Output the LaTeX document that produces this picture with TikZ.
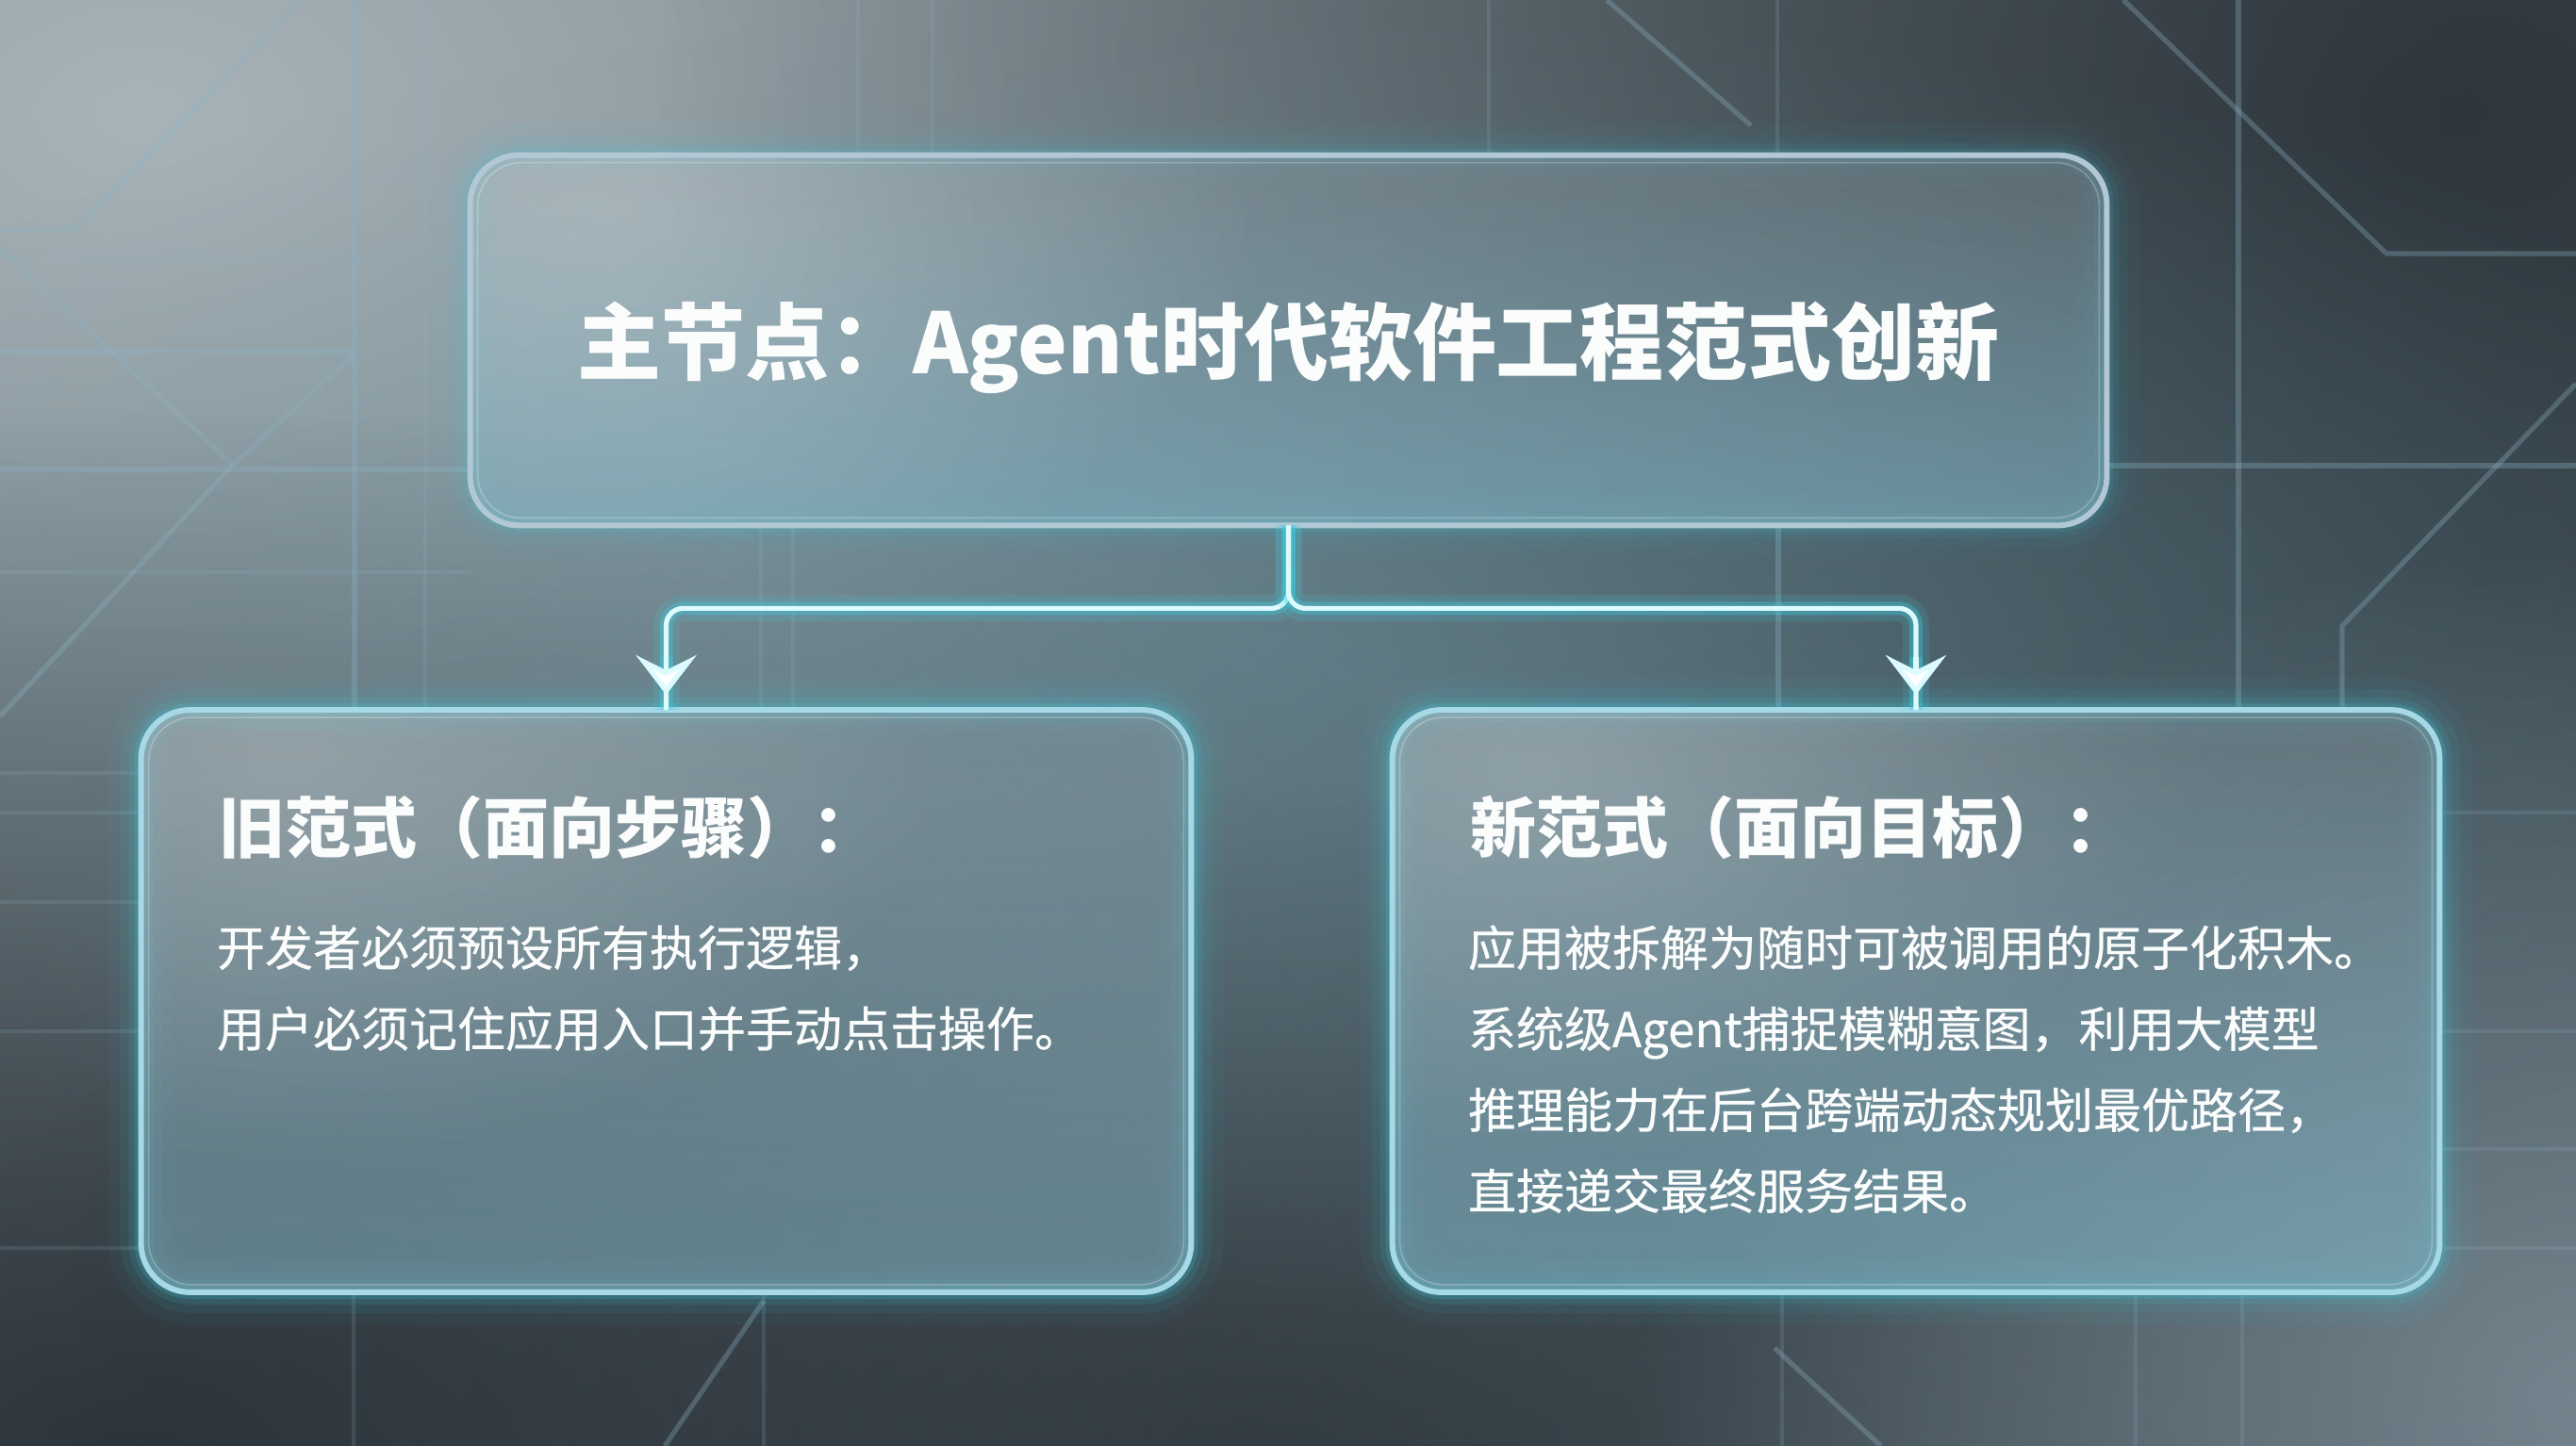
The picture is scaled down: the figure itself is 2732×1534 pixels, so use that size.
\documentclass[tikz,border=0pt]{standalone}
\usepackage{fontspec}
\setmainfont{Noto Sans CJK SC}
\newfontfamily\bodyfont[FakeBold=0.45]{Noto Sans CJK SC}
\usetikzlibrary{arrows.meta,calc,fadings}
\pgfdeclarelayer{back}
\pgfdeclarelayer{glass}
\pgfsetlayers{back,glass,main}
\tikzfading[name=fadeup, top color=transparent!100, bottom color=transparent!0]
\tikzfading[name=radfade, inner color=transparent!0, outer color=transparent!100]
\definecolor{bgbase}{HTML}{4E5C64}
\definecolor{bglight}{HTML}{A9B4B9}
\definecolor{bgdark}{HTML}{283036}
\definecolor{bgbr}{HTML}{7E909A}
\definecolor{bgteal}{HTML}{5F8E9C}
\definecolor{bgline}{HTML}{8DB2C4}
\definecolor{glowc}{HTML}{3ED0E2}
\definecolor{corec}{HTML}{DDFBFF}
\definecolor{edgec}{HTML}{A6D8E6}
\definecolor{tedge}{HTML}{B2C8D4}
\definecolor{glassc}{HTML}{8E9CA4}
\definecolor{tealc}{HTML}{72B8CC}
\definecolor{txt}{HTML}{FBFCFC}
\newcommand\panelglass[4]{%
  \foreach \w/\o in {34/0.04,22/0.07,13/0.11,7/0.18}{%
    \pgfmathsetmacro\oo{\o*#3}%
    \draw[glowc, line width=\w pt, opacity=\oo, rounded corners=26pt]
      (#1.north west) rectangle (#1.south east);}
  \fill[glassc, fill opacity=0.4, rounded corners=26pt]
    (#1.north west) rectangle (#1.south east);
  \fill[tealc, path fading=fadeup, fill opacity=#4, rounded corners=26pt]
    (#1.north west) rectangle (#1.south east);
  \begin{scope}
    \clip[rounded corners=26pt] (#1.north west) rectangle (#1.south east);
    \fill[white, path fading=radfade, fill opacity=0.22]
      ($(#1.north west)+(150,-60)$) ellipse (700 and 420);
  \end{scope}
  \draw[#2, line width=3pt, rounded corners=26pt]
    (#1.north west) rectangle (#1.south east);
  \draw[white, opacity=0.25, line width=0.8pt, rounded corners=23pt]
    ($(#1.north west)+(8,-8)$) rectangle ($(#1.south east)+(-8,8)$);
}
\tikzset{
  titlebox/.style={minimum width=867.5pt, minimum height=196pt, inner sep=0pt,
    text height=45pt, text depth=9pt,
    text=txt, font=\bfseries\fontsize{44.5}{50}\selectfont},
  panel/.style={minimum height=308.5pt, inner sep=0pt},
  head/.style={anchor=west, inner sep=0pt, text=txt,
    font=\bfseries\fontsize{35}{40}\selectfont},
  body/.style={anchor=north west, inner sep=0pt, text=txt, align=left,
    font=\bodyfont\fontsize{25.5}{43}\selectfont},
  conn/.style={draw=corec, line width=2.6pt, rounded corners=9pt,
    preaction={draw=glowc, line width=14pt, opacity=0.15},
    preaction={draw=glowc, line width=7pt, opacity=0.35}},
  tipst/.style={draw=corec, line width=2.6pt,
    -{Stealth[length=21pt, width=32pt, inset=8pt, fill=white]},
    preaction={draw=glowc, line width=7pt, opacity=0.3,
      -{Stealth[length=21pt, width=32pt, inset=8pt]}}},
  bgl/.style={draw=bgline, line width=2.6pt, opacity=0.33, line join=round},
  bgf/.style={draw=bgline, line width=2.2pt, opacity=0.18}
}
\begin{document}
\begin{tikzpicture}[x=0.5pt,y=0.5pt]
\useasboundingbox (0,0) rectangle (2732,-1534);
% ---------- background ----------
\begin{pgfonlayer}{back}
\fill[bgbase] (0,0) rectangle (2732,-1534);
\fill[bglight, path fading=radfade] (150,-120) ellipse (2600 and 1700);
\fill[bgdark, path fading=radfade, opacity=0.85] (2600,-120) ellipse (1900 and 1500);
\fill[bgdark, path fading=radfade, opacity=0.9] (150,-1534) ellipse (1900 and 1100);
\fill[bgdark, path fading=radfade, opacity=0.6] (1366,-1534) ellipse (1500 and 700);
\fill[bgbr, path fading=radfade, opacity=0.8] (2732,-1480) ellipse (1000 and 900);
\fill[bgteal, path fading=radfade, opacity=0.45] (1366,-700) ellipse (1800 and 700);
% circuit lines
\draw[bgl] (319,0) -- (80,-243) -- (0,-243);
\draw[bgl] (0,-263) -- (247,-493) -- (376,-375);
\draw[bgl] (247,-493) -- (0,-760);
\draw[bgl] (376,0) -- (376,-753);
\draw[bgf] (451,0) -- (451,-753);
\draw[bgf] (0,-272) -- (499,-272);
\draw[bgl] (0,-373) -- (376,-373);
\draw[bgl] (0,-498) -- (499,-498);
\draw[bgf] (0,-607) -- (499,-607);
\foreach \yy in {820,862,957,1094,1324}{\draw[bgf] (0,-\yy) -- (150,-\yy);}
\foreach \xx in {910,989,1579,1885}{\draw[bgf] (\xx,0) -- (\xx,-165);}
\draw[bgl] (1704,0) -- (1857,-133);
\draw[bgf] (807,-557) -- (807,-753);
\draw[bgf] (841,-557) -- (841,-753);
\draw[bgl] (1886,-557) -- (1886,-753);
\draw[bgl] (2374,0) -- (2374,-753);
\draw[bgl] (2252,0) -- (2531,-269) -- (2732,-269);
\draw[bgl] (2234,-494) -- (2732,-494);
\draw[bgl] (2732,-407) -- (2484,-664) -- (2484,-753);
\foreach \yy in {862,1094,1219,1324}{\draw[bgf] (2587,-\yy) -- (2732,-\yy);}
\foreach \xx in {375,810,1890,2265,2378}{\draw[bgf] (\xx,-1371) -- (\xx,-1534);}
\draw[bgl] (1882,-1430) -- (1995,-1534);
\draw[bgl] (810,-1380) -- (705,-1534);
\end{pgfonlayer}
% ---------- nodes ----------
\node[titlebox] (title) at (1366.5,-361) {主节点：Agent时代软件工程范式创新};
\node[panel, minimum width=556.5pt] (old) at (706.5,-1062) {};
\node[panel, minimum width=555pt] (new) at (2032,-1062) {};
\node[head] (oldhead) at ($(old.north west)+(82,-125)$) {旧范式（面向步骤）：};
\node[body] (oldbody) at ($(old.north west)+(80,-228)$)
  {开发者必须预设所有执行逻辑，\\用户必须记住应用入口并手动点击操作。};
\node[head] (newhead) at ($(new.north west)+(82,-125)$) {新范式（面向目标）：};
\node[body] (newbody) at ($(new.north west)+(80,-228)$)
  {应用被拆解为随时可被调用的原子化积木。\\系统级Agent捕捉模糊意图，利用大模型\\推理能力在后台跨端动态规划最优路径，\\直接递交最终服务结果。};
% ---------- glass panels ----------
\begin{pgfonlayer}{glass}
\panelglass{title}{tedge}{0.6}{0.4}
\panelglass{old}{edgec}{1}{0.35}
\panelglass{new}{edgec}{1}{0.45}
\end{pgfonlayer}
% ---------- connectors ----------
\draw[conn] (title.south) -- ++(0,-88) -| (old.north);
\draw[conn] (title.south) -- ++(0,-88) -| (new.north);
\draw[tipst] ($(old.north)+(0,56)$) -- ($(old.north)+(0,16)$);
\draw[tipst] ($(new.north)+(0,56)$) -- ($(new.north)+(0,16)$);
\end{tikzpicture}
\end{document}
